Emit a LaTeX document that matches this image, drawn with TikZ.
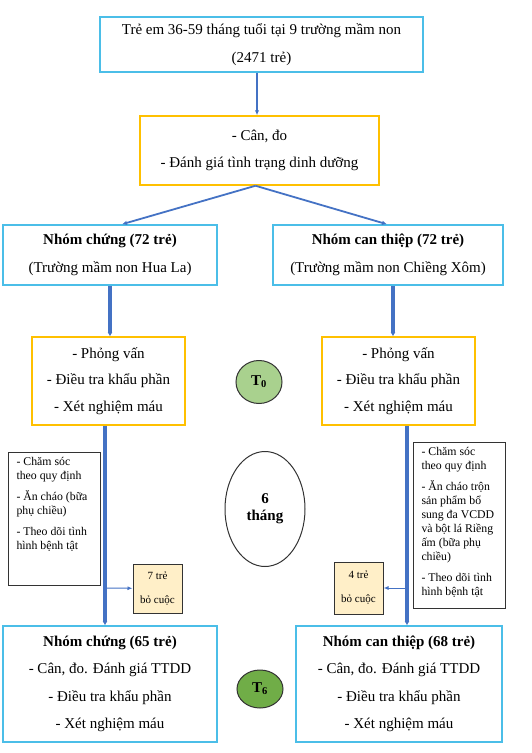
\documentclass[tikz,border=0pt]{standalone}
\usepackage{fontspec}
\setmainfont{Liberation Serif}
\usetikzlibrary{arrows.meta, shapes.geometric}
\definecolor{boxcyan}{RGB}{75,190,232}
\definecolor{boxyellow}{RGB}{255,192,0}
\definecolor{flowblue}{RGB}{68,114,196}
\definecolor{tzerofill}{RGB}{169,209,142}
\definecolor{tsixfill}{RGB}{112,173,71}
\definecolor{dropfill}{RGB}{255,239,200}
\tikzset{
    groupbox/.style={rectangle, draw=boxcyan, line width=1.5pt, align=center, font=\fontsize{15}{27.5}\selectfont},
    taskbox/.style={rectangle, draw=boxyellow, line width=1.5pt, align=center, font=\fontsize{15}{26.5}\selectfont},
    carebox/.style={rectangle, draw=black!80, line width=1pt, anchor=north west, inner xsep=8pt, inner ysep=5pt, font=\fontsize{11.8}{14}\selectfont},
    dropbox/.style={rectangle, draw=black!80, fill=dropfill, line width=1pt, align=center, font=\fontsize{11}{24}\selectfont},
    timept/.style={ellipse, draw=black!80, line width=1pt, inner sep=0pt, align=center, font=\bfseries\fontsize{15}{17}\selectfont},
    thinarrow/.style={-{Latex[length=5pt,width=4.5pt]}, flowblue, line width=1.8pt},
    thickarrow/.style={-{Latex[length=4pt,width=5pt]}, flowblue, line width=3.5pt},
    droparrow/.style={-{Latex[length=5pt,width=4pt]}, flowblue, line width=1pt}
}
\newcommand{\itemgap}{\par\vspace{7pt}}

\begin{document}
\begin{tikzpicture}[x=1pt, y=-1pt]
\useasboundingbox (0,0) rectangle (532,753);

% Sample and screening
\node (sample) [groupbox, minimum width=323pt, minimum height=55pt] at (261.5,44.5)
    {Trẻ em 36-59 tháng tuổi tại 9 trường mầm non\\(2471 trẻ)};
\node (screen) [taskbox, minimum width=239pt, minimum height=69pt] at (259.5,150.5)
    {- Cân, đo\\- Đánh giá tình trạng dinh dưỡng};

% Two groups
\node (ctrlgrp) [groupbox, minimum width=214pt, minimum height=60pt] at (110,255)
    {\textbf{Nhóm chứng (72 trẻ)}\\(Trường mầm non Hua La)};
\node (intgrp) [groupbox, minimum width=230pt, minimum height=60pt] at (388,255)
    {\textbf{Nhóm can thiệp (72 trẻ)}\\(Trường mầm non Chiềng Xôm)};

% Baseline surveys
\node (ctrlbase) [taskbox, minimum width=153pt, minimum height=88pt] at (108.5,381)
    {- Phỏng vấn\\- Điều tra khẩu phần\\- Xét nghiệm máu};
\node (intbase) [taskbox, minimum width=153pt, minimum height=88pt] at (398.5,381)
    {- Phỏng vấn\\- Điều tra khẩu phần\\- Xét nghiệm máu};
\node (tzero) [timept, fill=tzerofill, minimum width=46pt, minimum height=43pt] at (259,382) {T\textsubscript{0}};

% Six months of care
\node (period) [timept, minimum width=80pt, minimum height=115pt] at (265,509) {6\\tháng};
\node (ctrlcare) [carebox] at (8,452) {\parbox[t][123pt][t]{76pt}{\raggedright
    - Chăm sóc\\theo quy định\itemgap
    - Ăn cháo (bữa\\phụ chiều)\itemgap
    - Theo dõi tình\\hình bệnh tật}};
\node (intcare) [carebox] at (413,442) {\parbox[t][156pt][t]{76pt}{\raggedright
    - Chăm sóc\\theo quy định\itemgap
    - Ăn cháo trộn\\sản phẩm bổ\\sung đa VCDD\\và bột lá Riềng\\ấm (bữa phụ\\chiều)\itemgap
    - Theo dõi tình\\hình bệnh tật}};

% Drop-outs
\node (ctrldrop) [dropbox, minimum width=49pt, minimum height=49pt] at (157.5,588.5) {7 trẻ\\bỏ cuộc};
\node (intdrop) [dropbox, minimum width=49pt, minimum height=52pt] at (358.5,588) {4 trẻ\\bỏ cuộc};

% Final assessment
\node (ctrlend) [groupbox, minimum width=214pt, minimum height=116pt] at (110,684)
    {\textbf{Nhóm chứng (65 trẻ)}\\- Cân, đo. Đánh giá TTDD\\- Điều tra khẩu phần\\- Xét nghiệm máu};
\node (intend) [groupbox, minimum width=206pt, minimum height=116pt] at (399,684)
    {\textbf{Nhóm can thiệp (68 trẻ)}\\- Cân, đo. Đánh giá TTDD\\- Điều tra khẩu phần\\- Xét nghiệm máu};
\node (tsix) [timept, fill=tsixfill, minimum width=46pt, minimum height=38pt] at (260,689) {T\textsubscript{6}};

% Arrows
\draw[thinarrow] ([xshift=-2.5pt]screen.north |- sample.south) -- ([xshift=-2.5pt]screen.north);
\draw[thinarrow] ([xshift=-4pt]screen.south) -- ([xshift=12pt]ctrlgrp.north);
\draw[thinarrow] ([xshift=-4pt]screen.south) -- ([xshift=-1pt]intgrp.north);
\draw[thickarrow] (ctrlgrp.south) -- (ctrlbase.north -| ctrlgrp.south);
\draw[thickarrow] ([xshift=5pt]intgrp.south) -- ([xshift=5pt]intbase.north -| intgrp.south);
\coordinate (ctrltap) at (105,588);
\coordinate (inttap) at (407,588);
\draw[thickarrow] (ctrlbase.south -| ctrltap) -- (ctrlend.north -| ctrltap);
\draw[thickarrow] (intbase.south -| inttap) -- (intend.north -| inttap);
\draw[droparrow] (ctrltap) -- (ctrldrop);
\draw[droparrow] (inttap) -- (intdrop);

\end{tikzpicture}
\end{document}
